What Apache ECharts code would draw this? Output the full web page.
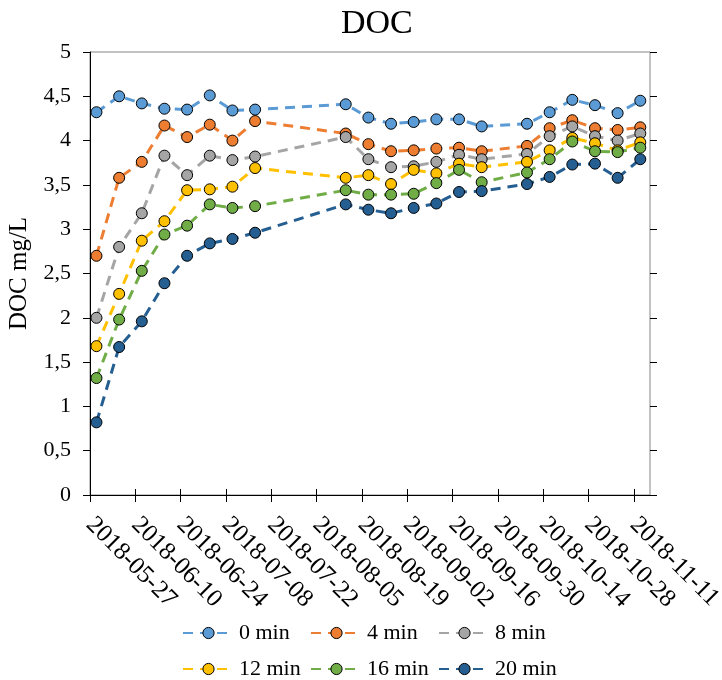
<!DOCTYPE html>
<html>
<head>
<meta charset="utf-8">
<script src="https://cdn.jsdelivr.net/npm/echarts@6/dist/echarts.min.js"></script>
<style>html,body{margin:0;padding:0;background:#fff}#c{width:722px;height:680px}</style>
</head>
<body>
<div id="c"></div>
<script>
const dates = ['2018-05-29','2018-06-05','2018-06-12','2018-06-19','2018-06-26','2018-07-03','2018-07-10','2018-07-17','2018-08-14','2018-08-21','2018-08-28','2018-09-04','2018-09-11','2018-09-18','2018-09-25','2018-10-09','2018-10-16','2018-10-23','2018-10-30','2018-11-06','2018-11-13'];
const min0  = [4.32,4.50,4.42,4.36,4.35,4.51,4.34,4.35,4.41,4.26,4.19,4.21,4.24,4.24,4.16,4.19,4.32,4.46,4.40,4.31,4.45];
const min4  = [2.70,3.58,3.76,4.17,4.04,4.18,4.00,4.22,4.08,3.96,3.88,3.89,3.91,3.92,3.88,3.94,4.14,4.23,4.14,4.12,4.15];
const min8  = [2.00,2.80,3.18,3.83,3.61,3.83,3.78,3.82,4.04,3.79,3.70,3.71,3.76,3.84,3.79,3.85,4.05,4.16,4.05,4.00,4.08];
const min12 = [1.68,2.27,2.87,3.09,3.44,3.45,3.48,3.69,3.58,3.61,3.51,3.67,3.63,3.74,3.70,3.76,3.89,4.03,3.97,3.89,3.98];
const min16 = [1.32,1.98,2.53,2.94,3.04,3.28,3.24,3.26,3.44,3.39,3.39,3.40,3.52,3.67,3.53,3.64,3.79,3.99,3.88,3.87,3.92];
const min20 = [0.82,1.67,1.96,2.39,2.70,2.84,2.89,2.96,3.28,3.22,3.18,3.24,3.29,3.42,3.43,3.51,3.59,3.73,3.74,3.58,3.79];
const seriesNames = ['0 min','4 min','8 min','12 min','16 min','20 min'];
const tickDates = ['2018-05-27','2018-06-10','2018-06-24','2018-07-08','2018-07-22','2018-08-05','2018-08-19','2018-09-02','2018-09-16','2018-09-30','2018-10-14','2018-10-28','2018-11-11'];
const axisStart = '2018-05-27';
const axisEnd = '2018-11-16';

const DAY = 86400000;
const toDay = s => { const p = s.split('-').map(Number); return Math.round((Date.UTC(p[0], p[1]-1, p[2]) - Date.UTC(2018,4,27)) / DAY); };
const dayToStr = d => { const t = new Date(Date.UTC(2018,4,27) + d*DAY); return t.toISOString().slice(0,10); };
const xs = dates.map(toDay);
const tickVals = tickDates.map(toDay);
const xMin = toDay(axisStart), xMax = toDay(axisEnd);

const colors = ['#5B9BD5','#ED7D31','#A5A5A5','#FFC000','#70AD47','#255E91'];
const values = [min0,min4,min8,min12,min16,min20];
const FONT = "'Liberation Serif','Times New Roman',serif";

const chart = echarts.init(document.getElementById('c'));
const series = values.map((v,i) => ({
  name: seriesNames[i],
  type: 'line',
  xAxisIndex: 0, yAxisIndex: 0,
  data: v.map((y,j) => [xs[j], y]),
  symbol: 'circle',
  symbolSize: 11,
  itemStyle: { color: colors[i], borderColor: '#000', borderWidth: 1 },
  lineStyle: { color: colors[i], width: 3, type: [10,7] },
  emphasis: { disabled: true },
  animation: false
}));

const legendLefts = [182, 310, 438];
const legendTops = [622, 658];
const legends = seriesNames.map((n, i) => ({
  data: [n], left: legendLefts[i % 3], top: legendTops[Math.floor(i / 3)],
  orient: 'horizontal', itemWidth: 51, itemHeight: 14, padding: 0,
  itemStyle: { borderColor: '#000', borderWidth: 1 },
  textStyle: { fontFamily: FONT, fontSize: 22, color: '#000' }, selectedMode: false
}));

chart.setOption({
  animation: false,
  title: { text: 'DOC', left: 336, top: 2, textStyle: { fontFamily: FONT, fontSize: 34, fontWeight: 'normal', color: '#000' } },
  grid: { left: 90, right: 72, top: 52, bottom: 185, show: true, borderColor: '#868686', borderWidth: 1, outerBoundsMode: 'none', containLabel: false },
  legend: legends,
  xAxis: [
    { type: 'value', min: xMin, max: xMax, interval: 14, position: 'bottom',
      axisLine: { show: true, lineStyle: { color: '#000', width: 1 } },
      axisTick: { show: true, inside: false, length: 7, lineStyle: { color: '#000' }, customValues: tickVals },
      splitLine: { show: false },
      axisLabel: { rotate: -45, margin: 26, fontFamily: FONT, fontSize: 25, color: '#000', customValues: tickVals,
        formatter: v => dayToStr(v) } },
    { type: 'value', min: xMin, max: xMax, interval: 14, position: 'top', offset: -443,
      axisLine: { show: false },
      axisTick: { show: true, inside: false, length: 6, lineStyle: { color: '#000' }, customValues: tickVals },
      splitLine: { show: false }, axisLabel: { show: false } }
  ],
  yAxis: [
    { type: 'value', min: 0, max: 5, interval: 0.5, position: 'left',
      name: 'DOC mg/L', nameLocation: 'middle', nameGap: 58, nameRotate: 90,
      nameTextStyle: { fontFamily: FONT, fontSize: 25, color: '#000' },
      axisLine: { show: true, lineStyle: { color: '#000', width: 1 } },
      axisTick: { show: true, inside: false, length: 7, lineStyle: { color: '#000' } },
      splitLine: { show: false },
      axisLabel: { margin: 19, fontFamily: FONT, fontSize: 22, color: '#000', formatter: v => String(v).replace('.', ',') } },
    { type: 'value', min: 0, max: 5, interval: 0.5, position: 'right', offset: -560,
      axisLine: { show: false },
      axisTick: { show: true, inside: false, length: 7, lineStyle: { color: '#000' } },
      splitLine: { show: false }, axisLabel: { show: false } }
  ],
  series: series
});
</script>
</body>
</html>
